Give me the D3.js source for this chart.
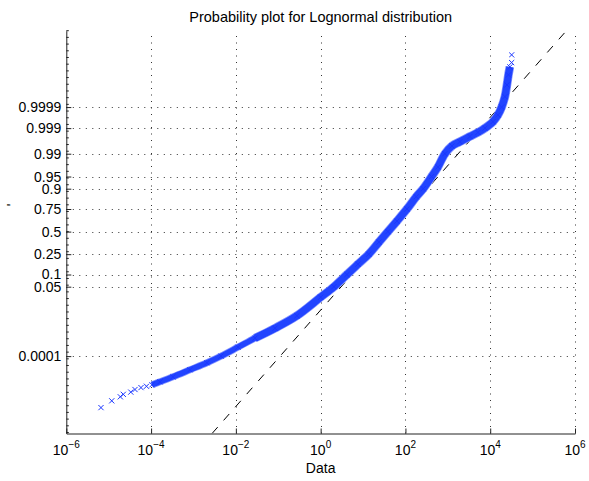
<!DOCTYPE html>
<html>
<head>
<meta charset="utf-8">
<script src="https://cdn.jsdelivr.net/npm/d3@7"></script>
<style>
  body { margin: 0; background: #fff; }
  svg { font-family: "Liberation Sans", Arial, Helvetica, sans-serif; }
</style>
</head>
<body>
<div id="chart"></div>
<script>
// data: sample values and their plotting positions
const dataX = [6.58e-6, 1.18e-5, 1.88e-5, 2.21e-5, 3.32e-5, 4.17e-5, 5.78e-5, 7.79e-5, 1.05e-4,
  1.62e-4, 3.28e-4, 8.27e-4, 2.08e-3, 4.45e-3, 1.12e-2, 2.82e-2, 8.36e-2, 0.276, 1.0,
  2.06, 4.17, 7.58, 13.6, 23.7, 38.6, 63.1, 108.5, 180, 263, 415, 584, 854,
  1250, 1930, 3320, 5130, 7500, 11600, 15200, 18600, 22200, 24800, 26900, 29100, 32000, 32000];
const dataP = [7.33e-8, 2.16e-7, 4.03e-7, 5.87e-7, 8.18e-7, 1.20e-6, 1.59e-6, 1.92e-6, 2.38e-6,
  3.63e-6, 7.26e-6, 1.84e-5, 4.50e-5, 1e-4, 2.78e-4, 7.31e-4, 0.00195, 0.0060, 0.02506,
  0.05, 0.1, 0.1655, 0.25, 0.3768, 0.5, 0.6232, 0.75, 0.851, 0.9, 0.95, 0.97314, 0.99,
  0.99472, 0.99637, 0.99775, 0.99847, 0.999, 0.999486, 0.999753, 0.9999, 0.9999721,
  0.99999409, 0.99999857, 0.999999565, 0.999999777, 0.9999999347];
// index ranges of the dense part of the sample (drawn as solid bands of markers)
const sparseBand = [8, 17];
const denseBand = [15, 43];

// fitted lognormal (reference line)
const fitMu = 3.75;
const fitSigma = 1.6;

const xTicks = [1e-6, 1e-4, 1e-2, 1, 1e2, 1e4, 1e6];
const xTickExps = ['\u22126', '\u22124', '\u22122', '0', '2', '4', '6'];
const probTicks = [0.0001, 0.05, 0.1, 0.25, 0.5, 0.75, 0.9, 0.95, 0.99, 0.999, 0.9999];
const probLabels = ['0.0001', '0.05', '0.1', '0.25', '0.5', '0.75', '0.9', '0.95', '0.99', '0.999', '0.9999'];
const zLimits = [-6.03, 6.0];

// inverse standard normal cdf (Acklam)
function norminv(p) {
  const a = [-3.969683028665376e+01, 2.209460984245205e+02, -2.759285104469687e+02, 1.383577518672690e+02, -3.066479806614716e+01, 2.506628277459239e+00];
  const b = [-5.447609879822406e+01, 1.615858368580409e+02, -1.556989798598866e+02, 6.680131188771972e+01, -1.328068155288572e+01];
  const c = [-7.784894002430293e-03, -3.223964580411365e-01, -2.400758277161838e+00, -2.549732539343734e+00, 4.374664141464968e+00, 2.938163982698783e+00];
  const d = [7.784695709041462e-03, 3.224671290700398e-01, 2.445134137142996e+00, 3.754408661907416e+00];
  const plow = 0.02425;
  let q, r;
  if (p < plow) {
    q = Math.sqrt(-2 * Math.log(p));
    return (((((c[0]*q+c[1])*q+c[2])*q+c[3])*q+c[4])*q+c[5]) / ((((d[0]*q+d[1])*q+d[2])*q+d[3])*q+1);
  } else if (p <= 1 - plow) {
    q = p - 0.5; r = q * q;
    return (((((a[0]*r+a[1])*r+a[2])*r+a[3])*r+a[4])*r+a[5])*q / (((((b[0]*r+b[1])*r+b[2])*r+b[3])*r+b[4])*r+1);
  }
  q = Math.sqrt(-2 * Math.log(1 - p));
  return -(((((c[0]*q+c[1])*q+c[2])*q+c[3])*q+c[4])*q+c[5]) / ((((d[0]*q+d[1])*q+d[2])*q+d[3])*q+1);
}

const W = 589, H = 481;
const margin = {top: 30.7, right: 14, bottom: 47.5, left: 66.3};

const x = d3.scaleLog()
  .domain([1e-6, 1e6])
  .range([margin.left, W - margin.right]);

const z = d3.scaleLinear()
  .domain(zLimits)
  .range([H - margin.bottom, margin.top]);
const y = p => z(norminv(p));

const svg = d3.select('#chart').append('svg')
  .attr('width', W)
  .attr('height', H);

svg.append('defs').append('clipPath').attr('id', 'plotclip')
  .append('rect')
  .attr('x', margin.left).attr('y', margin.top)
  .attr('width', W - margin.right - margin.left)
  .attr('height', H - margin.bottom - margin.top);

// dotted grid
const grid = svg.append('g')
  .attr('stroke', '#333')
  .attr('stroke-width', 1)
  .attr('stroke-dasharray', '1,5.5');

grid.selectAll('.vg').data(xTicks.slice(1)).enter().append('line')
  .attr('x1', d => Math.round(x(d)) + 0.5).attr('x2', d => Math.round(x(d)) + 0.5)
  .attr('y1', H - margin.bottom).attr('y2', margin.top);

grid.selectAll('.hg').data(probTicks).enter().append('line')
  .attr('y1', d => Math.round(y(d)) + 0.5).attr('y2', d => Math.round(y(d)) + 0.5)
  .attr('x1', margin.left).attr('x2', W - margin.right);

// reference line through the fitted distribution
const plot = svg.append('g').attr('clip-path', 'url(#plotclip)');
const refPts = zLimits.map(q => [Math.exp(fitMu + fitSigma * q), q]);
plot.append('line')
  .attr('x1', x(refPts[0][0])).attr('y1', z(refPts[0][1]))
  .attr('x2', x(refPts[1][0])).attr('y2', z(refPts[1][1]))
  .attr('stroke', '#000')
  .attr('stroke-width', 1)
  .attr('stroke-dasharray', '8.5,9');

// dense part of the sample
const pts = dataX.map((v, i) => ({ v, p: dataP[i] }));
const band = d3.line()
  .x(d => x(d.v))
  .y(d => y(d.p))
  .curve(d3.curveCatmullRom);

const bands = [[sparseBand, 5.5], [denseBand, 7.2]];
// light fringe first, then the solid core, so the two pieces join cleanly
bands.forEach(([range, width]) => {
  plot.append('path')
    .datum(pts.slice(range[0], range[1] + 1))
    .attr('d', band)
    .attr('fill', 'none')
    .attr('stroke', '#8394ff')
    .attr('stroke-width', width + 1.5)
    .attr('stroke-linejoin', 'round');
});
bands.forEach(([range, width]) => {
  plot.append('path')
    .datum(pts.slice(range[0], range[1] + 1))
    .attr('d', band)
    .attr('fill', 'none')
    .attr('stroke', '#2244ff')
    .attr('stroke-width', width)
    .attr('stroke-linejoin', 'round');
});

// x markers
const m = 2.6;
plot.append('g').selectAll('path').data(pts).enter().append('path')
  .attr('d', d => {
    const cx = x(d.v), cy = y(d.p);
    return `M${cx - m},${cy - m}L${cx + m},${cy + m}M${cx - m},${cy + m}L${cx + m},${cy - m}`;
  })
  .attr('fill', 'none')
  .attr('stroke', '#1a36ff')
  .attr('stroke-width', 1);

// axes
const xAxis = g => g
  .attr('transform', `translate(0,${H - margin.bottom})`)
  .call(d3.axisBottom(x).tickValues(xTicks).tickSize(-5).tickSizeOuter(0).tickFormat(''))
  .call(g => g.selectAll('.tick text').remove());

const yAxis = g => g
  .attr('transform', `translate(${margin.left},0)`)
  .call(d3.axisLeft(z)
    .tickValues(probTicks.map(norminv))
    .tickSize(-5).tickSizeOuter(0).tickPadding(5)
    .tickFormat((d, i) => probLabels[i]));

const gx = svg.append('g').call(xAxis);
const gy = svg.append('g').call(yAxis);

[gx, gy].forEach(g => {
  g.select('.domain').attr('stroke', '#222');
  g.selectAll('.tick line').attr('stroke', '#222');
  g.selectAll('text').attr('fill', '#000').style('font-size', '14px')
    .style('font-family', '"Liberation Sans", Arial, sans-serif');
});

// minor ticks on the probability axis
gy.append('g').selectAll('line')
  .data(d3.range(-30, 31).map(k => k * 0.2))
  .enter().append('line')
  .attr('x1', 0).attr('x2', 2.5)
  .attr('y1', d => z(d)).attr('y2', d => z(d))
  .attr('stroke', '#222');

// power-of-ten labels
const xl = svg.append('g')
  .style('font-size', '14px')
  .attr('text-anchor', 'middle');
xTicks.forEach((t, i) => {
  const tx = xl.append('text')
    .attr('x', x(t))
    .attr('y', H - margin.bottom + 21);
  tx.append('tspan').text('10');
  tx.append('tspan').attr('dy', -7).style('font-size', '10px').text(xTickExps[i]);
});

svg.append('text')
  .attr('x', (margin.left + W - margin.right) / 2)
  .attr('y', 22)
  .attr('text-anchor', 'middle')
  .style('font-size', '14.5px')
  .text('Probability plot for Lognormal distribution');

svg.append('text')
  .attr('x', (margin.left + W - margin.right) / 2)
  .attr('y', 473)
  .attr('text-anchor', 'middle')
  .style('font-size', '14px')
  .text('Data');

svg.append('text')
  .attr('transform', 'translate(17,205) rotate(-90)')
  .attr('text-anchor', 'middle')
  .style('font-size', '14px')
  .text("'");
</script>
</body>
</html>
